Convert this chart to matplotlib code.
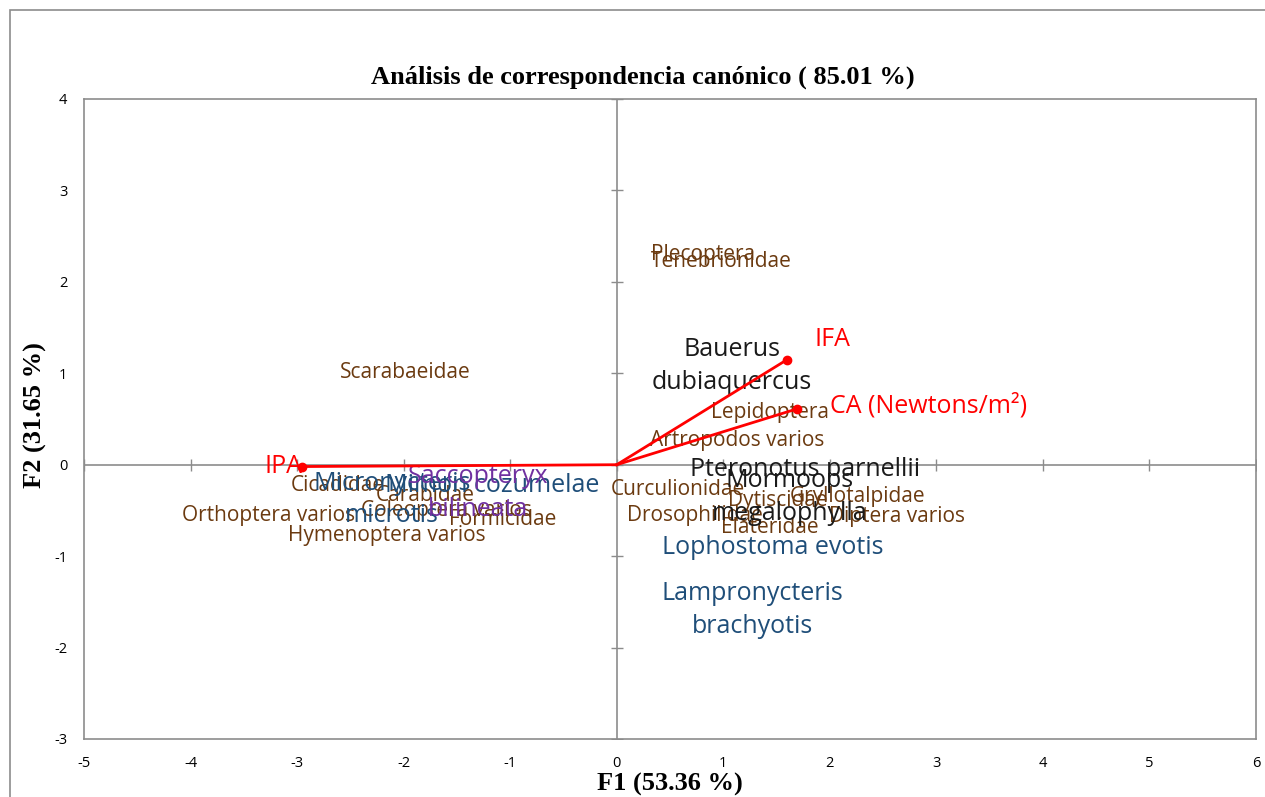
import matplotlib.pyplot as plt
from matplotlib.patches import Rectangle

plt.rcParams['axes.unicode_minus'] = False

# etiquetas de insectos (presas) y sus coordenadas F1, F2
presas = ["Plecoptera", "Tenebrionidae", "Scarabaeidae", "Lepidoptera", "Artropodos varios",
          "Curculionidae", "Gryllotalpidae", "Dytiscidae", "Drosophilidae", "Diptera varios",
          "Elateridae", "Cicadidae", "Carabidae", "Coleoptera varios", "Formicidae",
          "Orthoptera varios", "Hymenoptera varios"]
presas_f1 = [0.81, 0.98, -1.98, 1.44, 1.13, 0.57, 2.26, 1.51, 0.73, 2.63, 1.44,
             -2.62, -1.80, -1.60, -1.07, -3.27, -2.16]
presas_f2 = [2.30, 2.22, 1.01, 0.57, 0.26, -0.27, -0.35, -0.39, -0.55, -0.57, -0.69,
             -0.23, -0.34, -0.50, -0.60, -0.56, -0.77]

# murcielagos
murcielagos = ["Micronycteris\nmicrotis", "Mimon cozumelae", "Lophostoma evotis",
               "Lampronycteris\nbrachyotis", "Saccopteryx\nbilineata", "Bauerus\ndubiaquercus",
               "Pteronotus parnellii", "Mormoops\nmegalophylla"]
murc_f1 = [-2.11, -1.17, 1.46, 1.27, -1.30, 1.08, 1.77, 1.62]
murc_f2 = [-0.38, -0.23, -0.90, -1.59, -0.31, 1.08, -0.05, -0.35]
murc_color = ["#1F4E79", "#1F4E79", "#1F4E79", "#1F4E79", "#7030A0", "#1A1A1A", "#1A1A1A", "#1A1A1A"]

# variables ambientales (vectores)
variables = ["IPA", "IFA", "CA (Newtons/m²)"]
var_f1 = [-2.95, 1.60, 1.69]
var_f2 = [-0.02, 1.15, 0.61]

xticks = [-5, -4, -3, -2, -1, 0, 1, 2, 3, 4, 5, 6]
yticks = [-3, -2, -1, 0, 1, 2, 3, 4]

fig = plt.figure(figsize=(12.65, 7.97), dpi=100)
ax = fig.add_axes([84/1265, 1-739/797, (1256-84)/1265, (739-99)/797])

# marco exterior del grafico
fig.patches.append(Rectangle((10/1265, -0.1), 1.2, 1-10/797+0.1, transform=fig.transFigure,
                             fill=False, edgecolor="#8c8c8c", lw=1.2))

ax.set_xlim(-5, 6)
ax.set_ylim(-3, 4)
ax.axhline(0, color="#8c8c8c", lw=1.2, zorder=1)
ax.axvline(0, color="#8c8c8c", lw=1.2, zorder=1)
ax.plot(xticks, [0]*len(xticks), ls="none", marker="|", ms=8, color="#8c8c8c", zorder=1)
ax.plot([0]*len(yticks), yticks, ls="none", marker="_", ms=8, color="#8c8c8c", zorder=1)

for s in ax.spines.values():
    s.set_color("#8c8c8c")
    s.set_linewidth(1.2)
ax.set_xticks(xticks)
ax.set_yticks(yticks)
ax.tick_params(length=0, labelsize=10.5, pad=12)
for t in ax.get_xticklabels() + ax.get_yticklabels():
    t.set_fontfamily("Open Sans")

fuente = "Open Sans"
for n, x, y in zip(presas, presas_f1, presas_f2):
    ax.text(x, y, n, ha="center", va="center", fontsize=15, color="#6B3A10", family=fuente)

for n, x, y, c in zip(murcielagos, murc_f1, murc_f2, murc_color):
    ax.text(x, y, n, ha="center", va="center", fontsize=18, color=c, family=fuente,
            linespacing=1.4)

for x, y in zip(var_f1, var_f2):
    ax.plot([0, x], [0, y], color="red", lw=2, zorder=3)
    ax.plot(x, y, "o", color="red", ms=6, zorder=3)
ax.text(var_f1[0] - 0.18, var_f2[0], variables[0], ha="center", va="center", fontsize=18, color="red", family=fuente)
ax.text(var_f1[1] + 0.42, var_f2[1] + 0.22, variables[1], ha="center", va="center", fontsize=18, color="red", family=fuente)
ax.text(var_f1[2] + 1.24, var_f2[2] + 0.04, variables[2], ha="center", va="center", fontsize=18, color="red", family=fuente)

fig.text(643/1265, 1-77/797, "Análisis de correspondencia canónico ( 85.01 %)", ha="center", va="center",
         fontsize=19, fontweight="bold", family="Liberation Serif")
fig.text(670/1265, 1-784/797, "F1 (53.36 %)", ha="center", va="center",
         fontsize=19, fontweight="bold", family="Liberation Serif")
fig.text(35/1265, 1-415/797, "F2 (31.65 %)", ha="center", va="center", rotation=90,
         fontsize=19, fontweight="bold", family="Liberation Serif")

fig.savefig("out.png", dpi=100)
